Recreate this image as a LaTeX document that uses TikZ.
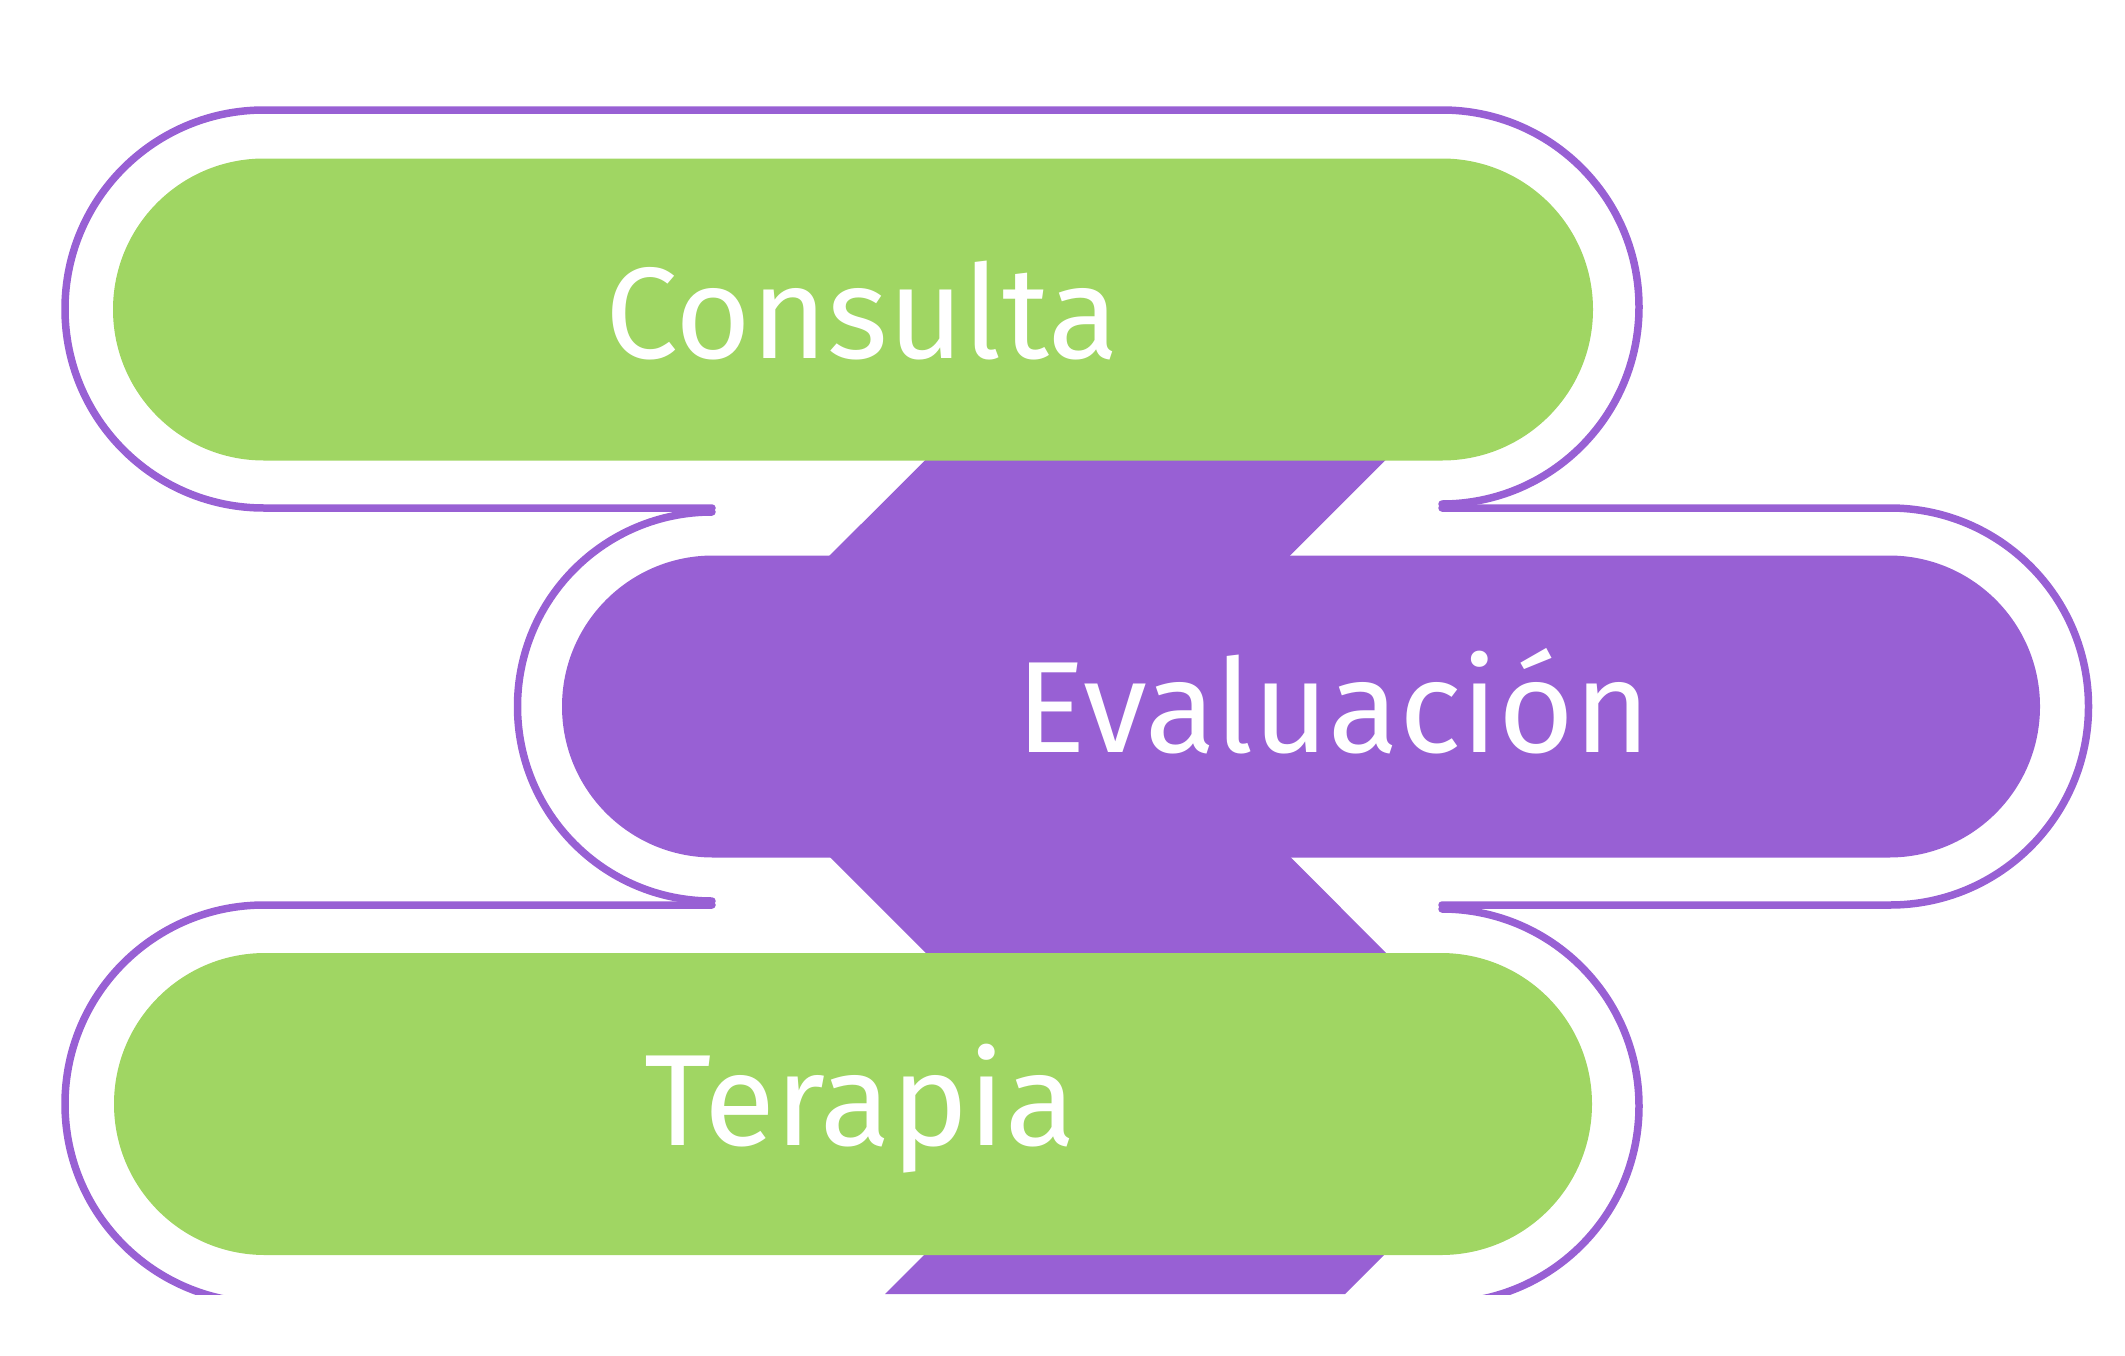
\documentclass[tikz,border=0pt]{standalone}
\usepackage{fontspec}
\setmainfont{Fira Sans}
\definecolor{pgreen}{RGB}{160,214,99}
\definecolor{ppurple}{RGB}{152,96,212}
\tikzset{
  outline/.style={draw=ppurple,line width=7.5pt,line cap=round,line join=round},
  pill/.style={rounded corners=151pt},
  label/.style={text=white,anchor=base,inner sep=0pt,font=\fontsize{130}{130}\selectfont}
}
\begin{document}
\begin{tikzpicture}[x=1pt,y=-1pt]
\useasboundingbox (0,0) rectangle (2125,1355);
\begin{scope}
\clip (0,0) rectangle (2125,1294);
% zigzag band behind the pills
\fill[ppurple] (1076,309.5) -- (1536,309.5) -- (1139.5,706) -- (1536,1103)
  -- (1345,1294) -- (885,1294) -- (1076,1103) -- (679,706) -- cycle;
% pills
\fill[pgreen,pill] (113,158.5) rectangle (1593,460.5);
\fill[ppurple,pill] (562,555.5) rectangle (2040,857.5);
\fill[pgreen,pill] (114,953) rectangle (1592,1255);
% outlines
\draw[outline] (712,508) -- (264,508) arc[start angle=90,end angle=270,radius=199]
  -- (1442,110) arc[start angle=-90,end angle=90,radius=197];
\draw[outline] (1442,508) -- (1890,508) arc[start angle=-90,end angle=90,radius=198.5]
  -- (1442,905);
\draw[outline] (712,512) arc[start angle=270,end angle=90,radius=194.5];
\draw[outline] (712,905) -- (264,905) arc[start angle=270,end angle=90,radius=199]
  -- (1442,1303) arc[start angle=90,end angle=-90,radius=197];
\end{scope}
% labels
\node[label] (consulta) at (862,358) {Consulta};
\node[label] (evaluacion) at (1333.5,752) {Evaluación};
\node[label] (terapia) at (860,1145) {Terapia};
\end{tikzpicture}
\end{document}
